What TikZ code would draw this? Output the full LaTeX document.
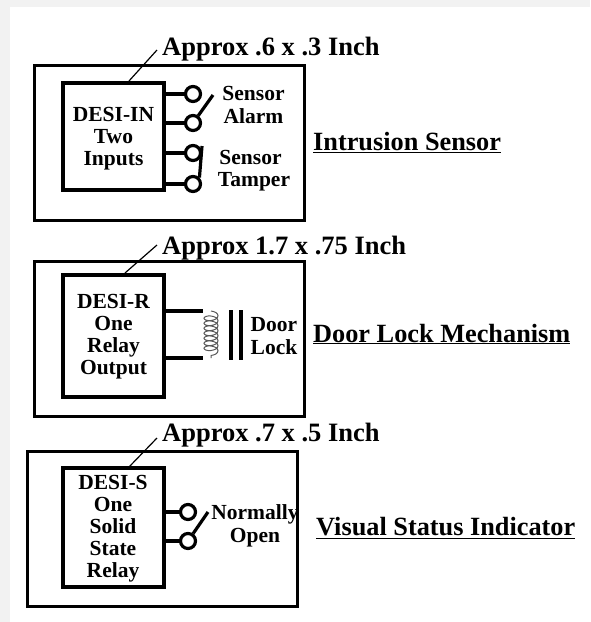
\documentclass[tikz,border=0pt]{standalone}
\usepackage{fontspec}
\setmainfont{Liberation Serif}
\usetikzlibrary{decorations.pathmorphing}
\tikzset{
  outerbox/.style={draw, line width=3pt, minimum width=270pt},
  modbox/.style={draw, line width=4pt, minimum width=101pt, inner sep=0pt, align=center, font=\fontsize{21.5}{22}\selectfont\bfseries},
  term/.style={draw, circle, line width=3.2pt, minimum size=15pt, inner sep=0pt},
  wire/.style={line width=3.2pt},
  lab/.style={inner sep=0pt, align=center, font=\fontsize{21.5}{22.5}\selectfont\bfseries},
  size/.style={inner sep=0pt, anchor=west, font=\fontsize{26.5}{22}\selectfont\bfseries},
  title/.style={inner sep=0pt, anchor=west, font=\fontsize{26.3}{22}\selectfont\bfseries},
  leader/.style={line width=1.2pt}
}
\begin{document}
\begin{tikzpicture}[x=1pt,y=-1pt]
\useasboundingbox (0,0) rectangle (590,622);
\fill[black!6!white,yellow!1!black!6!white] (0,0) rectangle (590,622);
\fill[white] (10,7) rectangle (590,622);
\node[outerbox, minimum height=155pt] (outerin) at (169,142.5) {};
\node[modbox, minimum height=107pt] (desiin) at (113.5,136.5) {\rule{0pt}{19.5pt}DESI-IN\\Two\\Inputs};
\node[term] (ta) at (193,94) {};
\node[term] (tb) at (193,123) {};
\node[term] (tc) at (193,153) {};
\node[term] (td) at (193,184) {};
\coordinate (tipa) at (213,95);
\coordinate (tipc) at (202,146);
\coordinate (lead1) at (129,81);
\coordinate (lead1b) at (157,50);
\draw[wire] (desiin.east |- ta) -- (ta);
\draw[wire] (desiin.east |- tb) -- (tb);
\draw[wire] (desiin.east |- tc) -- (tc);
\draw[wire] (desiin.east |- td) -- (td);
\draw[wire] (tb) -- (tipa);
\draw[wire] (td.north east) -- (tipc);
\draw[leader] (lead1) -- (lead1b);
\node[size] (size1) at (162,49) {Approx .6 x .3 Inch};
\node[lab] (alarm) at (253.5,105) {Sensor\\Alarm};
\node[lab] (tamper) at (250.5,170.5) {Sensor\\\hspace*{7pt}Tamper};
\node[title] (intr) at (313,143) {\underline{Intrusion Sensor}};
\node[outerbox, minimum height=155pt] (outerr) at (169,338.5) {};
\node[modbox, minimum height=122pt] (desir) at (113.5,336) {\rule{0pt}{16.5pt}DESI-R\\One\\Relay\\Output};
\coordinate (coila) at (211,311);
\coordinate (coilb) at (211,358);
\coordinate (platea) at (231,310);
\coordinate (plateb) at (231,360);
\coordinate (platec) at (241,310);
\coordinate (plated) at (241,360);
\coordinate (lead2) at (125,273);
\coordinate (lead2b) at (157,245);
\draw[wire] (desir.east |- coila) -- (203,311);
\draw[wire] (desir.east |- coilb) -- (203,358);
\draw[line width=1pt, black!65, decorate, decoration={coil, aspect=0.5, segment length=5pt, amplitude=7pt}] (coila) -- (coilb);
\draw[line width=4pt] (platea) -- (plateb);
\draw[line width=4pt] (platec) -- (plated);
\draw[leader] (lead2) -- (lead2b);
\node[size] (size2) at (162,248) {Approx 1.7 x .75 Inch};
\node[lab] (door) at (274,336) {Door\\Lock};
\node[title] (lock) at (313,334) {\underline{Door Lock Mechanism}};
\node[outerbox, minimum height=155pt] (outers) at (162,529) {};
\node[modbox, minimum height=119pt] (desis) at (113,527.5) {\rule{0pt}{16.5pt}DESI-S\\One\\Solid\\State\\Relay};
\node[term] (tf) at (188,512) {};
\node[term] (tg) at (188,541) {};
\coordinate (tipf) at (208,512);
\coordinate (lead3) at (129,467);
\coordinate (lead3b) at (157,438);
\draw[wire] (desis.east |- tf) -- (tf);
\draw[wire] (desis.east |- tg) -- (tg);
\draw[wire] (tg) -- (tipf);
\draw[leader] (lead3) -- (lead3b);
\node[size] (size3) at (162,435) {Approx .7 x .5 Inch};
\node[lab] (open) at (255,526) {Normally\\Open};
\node[title] (vis) at (316,528) {\underline{Visual Status Indicator}};
\end{tikzpicture}
\end{document}
